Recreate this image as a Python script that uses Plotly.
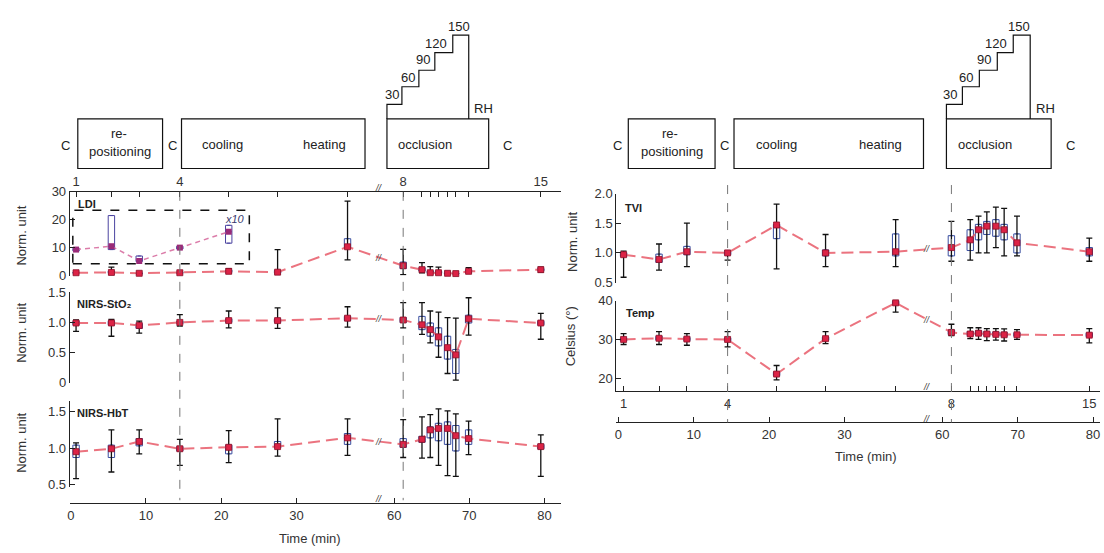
import numpy as np
import plotly.graph_objects as go

W, H = 1104, 553

# ---------------- data ----------------
event_ids = list(range(1, 16))
labelled_events = [1, 4, 8, 15]
event_times = [0.7, 5.4, 9.1, 14.5, 21.0, 27.5, 36.8, 61.2, 63.7, 64.8, 65.9, 67.1, 68.2, 69.9, 79.5]
time_ticks = [0, 10, 20, 30, 60, 70, 80]
marked_events = [4, 8]

ldi_med = [1.0, 1.1, 0.8, 1.0, 1.5, 1.2, 10.3, 3.5, 2.1, 1.0, 1.0, 0.8, 0.7, 1.5, 2.1]
ldi_lo = [0.5, 0.4, 0.4, 0.6, 0.8, 0.6, 5.6, 0.3, 1.0, 0.5, 0.5, 0.5, 0.4, 0.9, 1.2]
ldi_hi = [1.6, 3.0, 1.2, 1.5, 2.5, 9.3, 26.7, 9.4, 4.6, 3.2, 3.0, 1.5, 1.3, 2.8, 3.0]
ldi_q1 = [0.8, 0.8, 0.6, 0.8, 1.1, 0.9, 9.8, 2.5, 1.6, 0.8, 0.8, 0.6, 0.6, 1.2, 1.7]
ldi_q3 = [1.2, 1.6, 0.9, 1.2, 2.0, 1.8, 13.2, 4.8, 2.8, 1.6, 1.5, 1.0, 0.9, 2.0, 2.5]

ldi10_events = [1, 2, 3, 4, 5]
ldi10_med = [9.3, 10.5, 5.2, 10.0, 15.7]
ldi10_q1 = [8.8, 9.3, 5.0, 9.5, 11.6]
ldi10_q3 = [9.8, 21.5, 7.0, 10.5, 18.0]

sto2_med = [0.99, 0.99, 0.95, 1.0, 1.03, 1.03, 1.07, 1.04, 0.96, 0.88, 0.76, 0.58, 0.46, 1.06, 0.99]
sto2_lo = [0.85, 0.77, 0.82, 0.94, 0.91, 0.90, 0.92, 0.91, 0.80, 0.66, 0.42, 0.15, 0.04, 0.79, 0.72]
sto2_hi = [1.04, 1.05, 1.02, 1.13, 1.19, 1.24, 1.26, 1.33, 1.33, 1.19, 1.17, 1.08, 1.07, 1.41, 1.15]
sto2_q1 = [0.96, 0.96, 0.90, 0.98, 1.00, 1.00, 1.03, 1.00, 0.88, 0.77, 0.61, 0.39, 0.15, 0.99, 0.96]
sto2_q3 = [1.02, 1.02, 0.98, 1.02, 1.06, 1.06, 1.10, 1.08, 1.10, 0.99, 0.91, 0.77, 0.55, 1.12, 1.02]

hbt_med = [0.95, 0.99, 1.09, 0.99, 1.01, 1.02, 1.14, 1.05, 1.12, 1.25, 1.27, 1.27, 1.17, 1.13, 1.02]
hbt_lo = [0.58, 0.67, 0.92, 0.76, 0.80, 0.89, 0.90, 0.87, 0.86, 0.87, 0.76, 0.62, 0.61, 0.91, 0.61]
hbt_hi = [1.07, 1.25, 1.25, 1.12, 1.24, 1.40, 1.40, 1.39, 1.43, 1.46, 1.54, 1.51, 1.47, 1.37, 1.18]
hbt_q1 = [0.87, 0.87, 1.03, 0.96, 0.92, 1.00, 1.05, 1.01, 1.08, 1.14, 1.10, 1.05, 0.96, 1.05, 0.99]
hbt_q3 = [1.04, 1.04, 1.13, 1.02, 1.04, 1.09, 1.20, 1.13, 1.16, 1.29, 1.34, 1.36, 1.31, 1.25, 1.05]

tvi_med = [0.97, 0.89, 1.02, 1.00, 1.47, 1.00, 1.02, 1.09, 1.22, 1.39, 1.45, 1.45, 1.39, 1.17, 1.02]
tvi_lo = [0.59, 0.71, 0.77, 0.88, 0.73, 0.77, 0.77, 0.86, 0.88, 1.00, 1.00, 1.09, 0.95, 0.95, 0.86]
tvi_hi = [1.03, 1.15, 1.50, 1.04, 1.82, 1.31, 1.56, 1.53, 1.56, 1.62, 1.69, 1.77, 1.75, 1.62, 1.25]
tvi_q1 = [0.94, 0.84, 0.97, 0.97, 1.24, 0.95, 0.95, 0.95, 1.04, 1.22, 1.31, 1.28, 1.22, 1.00, 0.95]
tvi_q3 = [1.00, 0.98, 1.11, 1.02, 1.48, 1.05, 1.32, 1.29, 1.39, 1.48, 1.53, 1.56, 1.48, 1.32, 1.09]

temp_med = [30.0, 30.3, 30.1, 30.0, 21.1, 30.2, 39.4, 31.8, 31.4, 31.6, 31.4, 31.3, 31.2, 31.2, 31.1]
temp_lo = [28.7, 28.7, 28.5, 28.1, 19.6, 28.9, 37.0, 31.0, 30.2, 30.0, 29.7, 29.8, 29.6, 30.0, 29.1]
temp_hi = [31.5, 32.0, 31.5, 32.0, 23.3, 32.0, 40.0, 33.9, 33.0, 33.0, 32.8, 32.8, 32.7, 32.5, 32.8]
temp_q1 = [29.6, 29.8, 29.7, 29.6, 20.7, 29.8, 39.0, 31.3, 31.0, 31.1, 31.0, 30.9, 30.8, 30.8, 30.7]
temp_q3 = [30.4, 30.8, 30.5, 30.4, 21.6, 30.6, 39.8, 32.4, 32.0, 32.2, 32.0, 31.9, 31.8, 31.7, 31.6]

# ---------------- helpers ----------------
GAP = 17.0       # minutes removed by the axis break
CUT = 50.0
BREAK_X = 41.0   # where the // mark sits on the compressed axis


def bx(t):
    return t if t < CUT else t - GAP


def dx(a, b):
    return [a / W, b / W]


def dy(top, bottom):
    return [1 - bottom / H, 1 - top / H]


def px(x):
    return x / W


def py(y):
    return 1 - y / H


FONT = "Liberation Sans, Arial, sans-serif"
RED = "#dc2346"
RED_LINE = "rgba(232,90,104,0.85)"
BLUE = "#3a4fa0"
INK = "#222222"

xs = [bx(t) for t in event_times]

fig = go.Figure()


def add_series(xa, ya, med, lo, hi, q1, q3):
    med = np.array(med)
    fig.add_trace(go.Box(x=xs, q1=q1, median=list(med), q3=q3, lowerfence=q1, upperfence=q3,
                         width=0.85, line=dict(color=BLUE, width=1), fillcolor="rgba(255,255,255,0.85)",
                         boxpoints=False, xaxis=xa, yaxis=ya, showlegend=False, hoverinfo="skip"))
    fig.add_trace(go.Scatter(x=xs, y=list(med), mode="markers",
                             marker=dict(size=1, color="rgba(0,0,0,0)"),
                             error_y=dict(type="data", symmetric=False,
                                          array=list(np.array(hi) - med),
                                          arrayminus=list(med - np.array(lo)),
                                          color="#111", thickness=1.3, width=3),
                             xaxis=xa, yaxis=ya, showlegend=False, hoverinfo="skip", cliponaxis=False))
    fig.add_trace(go.Scatter(x=xs, y=list(med), mode="lines+markers",
                             line=dict(color=RED_LINE, width=2, dash="12px,6px"),
                             marker=dict(symbol="square", size=6, color=RED, line=dict(color="#8a1028", width=0.8)),
                             xaxis=xa, yaxis=ya, showlegend=False, hoverinfo="skip", cliponaxis=False))


# LDI x10 inset series
x10 = [xs[e - 1] for e in ldi10_events]
fig.add_trace(go.Box(x=x10, q1=ldi10_q1, median=ldi10_med, q3=ldi10_q3, lowerfence=ldi10_q1, upperfence=ldi10_q3,
                     width=0.85, line=dict(color="#4b44a0", width=1), fillcolor="rgba(255,255,255,0.85)",
                     boxpoints=False, xaxis="x", yaxis="y", showlegend=False, hoverinfo="skip"))
fig.add_trace(go.Scatter(x=x10, y=ldi10_med, mode="lines+markers",
                         line=dict(color="rgba(215,110,160,0.9)", width=1.5, dash="5px,4px"),
                         marker=dict(symbol="square", size=6, color="#9a2a78"),
                         xaxis="x", yaxis="y", showlegend=False, hoverinfo="skip", cliponaxis=False))

add_series("x", "y", ldi_med, ldi_lo, ldi_hi, ldi_q1, ldi_q3)
add_series("x2", "y2", sto2_med, sto2_lo, sto2_hi, sto2_q1, sto2_q3)
add_series("x3", "y3", hbt_med, hbt_lo, hbt_hi, hbt_q1, hbt_q3)
add_series("x4", "y4", tvi_med, tvi_lo, tvi_hi, tvi_q1, tvi_q3)
add_series("x5", "y5", temp_med, temp_lo, temp_hi, temp_q1, temp_q3)
# placeholder trace so the right-hand time axis is created
fig.add_trace(go.Scatter(x=[0], y=[None], xaxis="x6", yaxis="y6", showlegend=False, hoverinfo="skip"))

# ---------------- axes ----------------
ax = dict(showline=True, linecolor=INK, linewidth=1.2, ticks="inside", ticklen=5, tickcolor=INK,
          tickwidth=1.2, showgrid=False, zeroline=False, tickfont=dict(family=FONT, size=13, color="#333"))
hidden = dict(showline=False, showticklabels=False, ticks="", showgrid=False, zeroline=False)
L_RANGE = [-0.13, 65.25]
R_RANGE = [-0.265, 63.92]
ev_x = [bx(t) for t in event_times]
ev_major = [bx(event_times[e - 1]) for e in labelled_events]
ev_txt = [str(e) for e in labelled_events]
ev_minor = dict(tickmode="array", tickvals=ev_x, ticks="inside", ticklen=5, tickcolor=INK, tickwidth=1.2,
                showgrid=False)
tm_x = [bx(t) for t in time_ticks]
tm_txt = [str(t) for t in time_ticks]

fig.update_layout(
    width=W, height=H, margin=dict(l=0, r=0, t=0, b=0),
    paper_bgcolor="white", plot_bgcolor="rgba(0,0,0,0)", boxmode="overlay",
    font=dict(family=FONT, color=INK),
    xaxis=dict(ax, domain=dx(67, 560), range=L_RANGE, anchor="y", side="top",
               tickvals=ev_major, ticktext=ev_txt, minor=ev_minor),
    yaxis=dict(ax, domain=dy(190, 276), range=[0, 30], anchor="x", tickvals=[0, 10, 20, 30]),
    xaxis2=dict(hidden, domain=dx(67, 560), range=L_RANGE, anchor="y2"),
    yaxis2=dict(ax, domain=dy(293.3, 386), range=[0, 1.5], anchor="x2",
                tickvals=[0, 0.5, 1, 1.5], ticktext=["0", "0.5", "1.0", "1.5"]),
    xaxis3=dict(ax, domain=dx(67, 560), range=L_RANGE, anchor="free", position=py(510),
                tickvals=tm_x, ticktext=tm_txt),
    yaxis3=dict(ax, domain=dy(405, 493), range=[0.469, 1.647], anchor="x3",
                tickvals=[0.5, 1, 1.5], ticktext=["0.5", "1.0", "1.5"]),
    xaxis4=dict(hidden, domain=dx(615, 1100), range=R_RANGE, anchor="y4"),
    yaxis4=dict(ax, domain=dy(191.7, 283.3), range=[0.5, 2.0], anchor="x4",
                tickvals=[0.5, 1, 1.5, 2], ticktext=["0.5", "1.0", "1.5", "2.0"]),
    xaxis5=dict(ax, domain=dx(615, 1100), range=R_RANGE, anchor="y5", side="bottom",
                tickvals=ev_major, ticktext=ev_txt, minor=ev_minor),
    yaxis5=dict(ax, domain=dy(301.7, 395), range=[16.675, 40], anchor="x5", tickvals=[20, 30, 40]),
    xaxis6=dict(ax, domain=dx(615, 1100), range=R_RANGE, anchor="y6", side="bottom",
                tickvals=tm_x, ticktext=tm_txt),
    yaxis6=dict(hidden, domain=[py(427), py(426.5)], range=[0, 1], anchor="x6"),
)

# ---------------- shapes ----------------
shapes = []
for e in marked_events:
    xv = bx(event_times[e - 1])
    shapes.append(dict(type="line", xref="x", yref="paper", x0=xv, x1=xv, y0=py(190), y1=py(507),
                       line=dict(color="#777", width=1, dash="dash")))
    shapes.append(dict(type="line", xref="x5", yref="paper", x0=xv, x1=xv, y0=py(183), y1=py(427),
                       line=dict(color="#777", width=1, dash="dash")))

# inset dashed rectangle around the x10 LDI series
shapes.append(dict(type="rect", xref="paper", yref="paper", x0=px(70), x1=px(247), y0=py(264), y1=py(209),
                   line=dict(color="#111", width=1.5, dash="dash")))

# protocol diagrams (pixel geometry of the schematic)
diagram_boxes_left = [(75, 160), (179, 363), (385, 487)]
diagram_boxes_right = [(627, 714), (733, 923), (946, 1051)]
stairs_left = [(385, 115), (385, 100), (400, 100), (400, 82), (417, 82), (417, 65), (433, 65), (433, 47),
               (451, 47), (451, 29), (467, 29), (467, 115)]
stairs_right = [(946, 115), (946, 100), (962, 100), (962, 82), (979, 82), (979, 65), (997, 65), (997, 47),
                (1013, 47), (1013, 29), (1030, 29), (1030, 115)]
for boxes, stairs in ((diagram_boxes_left, stairs_left), (diagram_boxes_right, stairs_right)):
    for a, b in boxes:
        shapes.append(dict(type="rect", xref="paper", yref="paper", x0=px(a), x1=px(b), y0=py(166), y1=py(115),
                           line=dict(color="#111", width=1.2)))
    path = "M " + " L ".join(f"{px(x):.5f},{py(y):.5f}" for x, y in stairs)
    shapes.append(dict(type="path", xref="paper", yref="paper", path=path, line=dict(color="#111", width=1.2)))

fig.update_layout(shapes=shapes)

# ---------------- annotations ----------------
anns = []


def ann(text, x, y, size=13, xanchor="center", **kw):
    color = kw.pop("color", INK)
    anns.append(dict(text=text, x=px(x), y=py(y), xref="paper", yref="paper", showarrow=False,
                     xanchor=xanchor, yanchor="middle", font=dict(family=FONT, size=size, color=color), **kw))


diagram_text_left = [("C", 63, 142), ("re-", 116, 130), ("positioning", 117, 149), ("C", 170, 142),
                     ("cooling", 220, 141), ("heating", 322, 141), ("occlusion", 423, 141), ("C", 506, 142),
                     ("30", 390, 90), ("60", 406, 72), ("90", 421, 54), ("120", 434, 38), ("150", 457, 20),
                     ("RH", 482, 104)]
diagram_text_right = [("C", 616, 142), ("re-", 669, 130), ("positioning", 671, 149), ("C", 723, 142),
                      ("cooling", 776, 141), ("heating", 880, 141), ("occlusion", 985, 141), ("C", 1070, 142),
                      ("30", 950, 90), ("60", 966, 72), ("90", 984, 54), ("120", 996, 38), ("150", 1019, 20),
                      ("RH", 1045, 104)]
for t, x, y in diagram_text_left + diagram_text_right:
    ann(t, x, y, size=13)

# panel labels
for t, x, y in [("<b>LDI</b>", 73, 203), ("<b>NIRS-StO₂</b>", 72, 305), ("<b>NIRS-HbT</b>", 72, 417),
                ("<b>TVI</b>", 622, 207), ("<b>Temp</b>", 623, 315)]:
    ann(t, x, y, size=11, xanchor="left")

ann("<i>x10</i>", 233, 218, size=11, color="#3a3a70")

# axis titles
for t, x, y in [("Norm. unit", 19, 235), ("Norm. unit", 19, 335), ("Norm. unit", 19, 448),
                ("Norm. unit", 571, 241), ("Celsius (°)", 569, 338)]:
    ann(t, x, y, size=13, textangle=-90, color="#333")
ann("Time (min)", 308, 546, size=13, color="#333")
ann("Time (min)", 865, 462, size=13, color="#333")

# axis-break marks on axes
for x_px, y_px in [(68 + 7.54 * BREAK_X, 186), (68 + 7.54 * BREAK_X, 506),
                   (617 + 7.556 * BREAK_X, 391), (617 + 7.556 * BREAK_X, 423)]:
    ann("<i>//</i>", x_px, y_px, size=9, color="#333")

# axis-break marks on the data lines (interpolated position)
for xa, ya, med in [("x", "y", ldi_med), ("x2", "y2", sto2_med), ("x3", "y3", hbt_med),
                    ("x4", "y4", tvi_med), ("x5", "y5", temp_med)]:
    yv = float(np.interp(BREAK_X, xs, med))
    anns.append(dict(text="<i>//</i>", x=BREAK_X, y=yv, xref=xa, yref=ya, showarrow=False,
                     font=dict(family=FONT, size=9, color="#444")))

fig.update_layout(annotations=anns)

fig.write_html("out.html")
